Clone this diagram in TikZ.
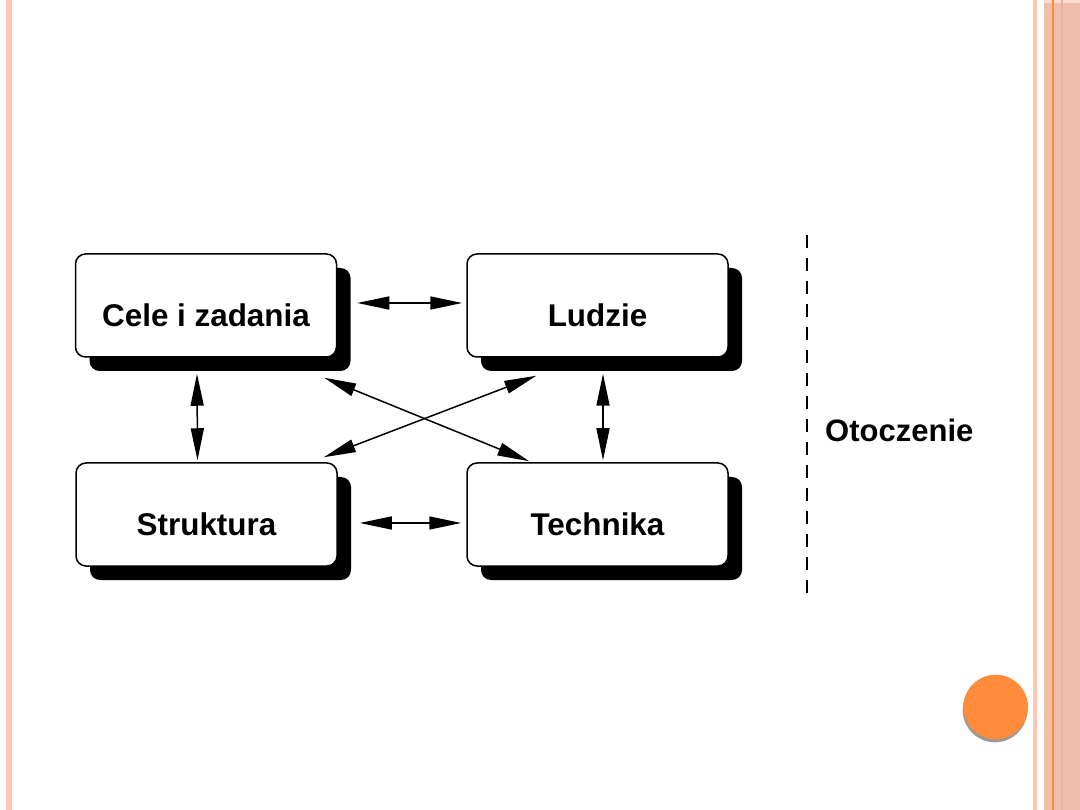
\documentclass[tikz,border=0pt]{standalone}
\usepackage{fontspec}
\setmainfont{Liberation Sans}
\usetikzlibrary{arrows.meta,shadows}
\definecolor{paleside}{HTML}{FFC6B2}
\definecolor{sideband}{HTML}{F0BFAB}
\definecolor{sideline}{HTML}{FF8A3C}
\definecolor{sidedark}{HTML}{EBB39E}
\definecolor{dotfill}{HTML}{FF8C3A}
\tikzset{
    unitbox/.style = {draw = black, line width = 1.5pt, fill = white, rounded corners = 10pt,
        minimum width = 261pt, minimum height = 103pt, inner sep = 0pt,
        font = \fontsize{31.4}{36}\selectfont\bfseries, text height = 42pt, text depth = 0pt,
        drop shadow = {shadow xshift = 14pt, shadow yshift = -14pt, fill = black, opacity = 1}},
    link/.style = {{Triangle[length = 32pt, width = 13pt]}-{Triangle[length = 32pt, width = 13pt]}, line width = 1.5pt}
}
\begin{document}
\begin{tikzpicture}[x = 1pt, y = -1pt]
        \useasboundingbox (0, 0) rectangle (1080, 810);
        % slide frame
        \fill[paleside] (6, 0) rectangle (12, 810);
        \fill[paleside] (1033, 0) rectangle (1037, 810);
        \fill[sideband] (1044, 0) rectangle (1080, 810);
        \fill[paleside!60] (1044, 0) rectangle (1080, 3);
        \fill[sideline] (1051.7, 0) rectangle (1054, 810);
        \fill[sidedark] (1061, 0) rectangle (1063, 810);
        \fill[gray!80] (995, 710) circle (32.3);
        \fill[dotfill] (995.7, 707) circle (32.3);
        % the four parts
        \node[unitbox] (cele) at (206, 305.5) {Cele i zadania};
        \node[unitbox] (ludzie) at (597.5, 305.5) {Ludzie};
        \node[unitbox] (struktura) at (206.5, 514.5) {Struktura};
        \node[unitbox] (technika) at (597.5, 514.5) {Technika};
        \draw[link] ([xshift = 20pt, yshift = 2.5pt]cele.east) -- ([xshift = -4pt, yshift = 2.5pt]ludzie.west);
        \draw[link] ([xshift = 22pt, yshift = -8.5pt]struktura.east) -- ([xshift = -5pt, yshift = -8.5pt]technika.west);
        \draw[link] ([xshift = -9pt, yshift = -16pt]cele.south) -- ([xshift = -9pt, yshift = 2pt]struktura.north);
        \draw[link] ([xshift = 5.5pt, yshift = -16pt]ludzie.south) -- ([xshift = 5.5pt, yshift = 2pt]technika.north);
        \draw[link] ([xshift = -13pt, yshift = -20pt]cele.south east) -- ([xshift = 63pt, yshift = 1pt]technika.north west);
        \draw[link] ([xshift = -14pt, yshift = 5pt]struktura.north east) -- ([xshift = 70pt, yshift = -18pt]ludzie.south west);
        % environment
        \draw[line width = 1.6pt, dash pattern = on 13pt off 10pt] (807, 235) -- (807, 600);
        \node[anchor = west, font = \fontsize{31}{36}\selectfont\bfseries, inner sep = 0pt] (otoczenie) at (825, 430) {Otoczenie};
    \end{tikzpicture}
\end{document}
